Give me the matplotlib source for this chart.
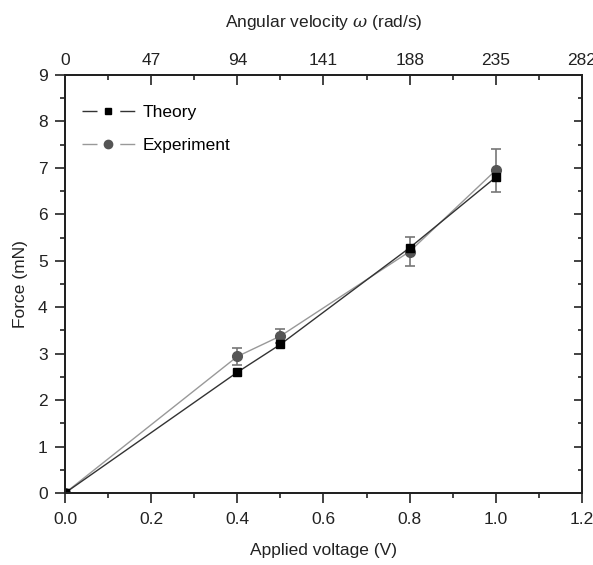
import matplotlib
matplotlib.use("Agg")
import matplotlib.pyplot as plt
from matplotlib.ticker import MultipleLocator, FixedLocator, FormatStrFormatter
from matplotlib.lines import Line2D

plt.rcParams['font.family'] = ['Liberation Sans', 'DejaVu Sans']
plt.rcParams['mathtext.fontset'] = 'custom'
plt.rcParams['mathtext.it'] = 'DejaVu Serif:italic'

voltage = [0.0, 0.4, 0.5, 0.8, 1.0]
theory = [0.0, 2.60, 3.20, 5.28, 6.80]
experiment = [0.0, 2.94, 3.38, 5.20, 6.95]
exp_err = [0.0, 0.18, 0.15, 0.32, 0.46]
omega_ticks = [0, 47, 94, 141, 188, 235, 282]
omega_per_volt = 235.0

FS = 12.5
TXT = '#222222'
theory_line = '#333333'
exp_line = '#999999'
exp_marker = '#555555'

fig = plt.figure(figsize=(5.93, 5.65), dpi=100)
ax = fig.add_axes([0.1096, 0.1274, 0.8718, 0.7398])

ax.plot(voltage, theory, '-', color=theory_line, lw=1.0, marker='s', ms=6,
        mfc='black', mec='black', zorder=3)
ax.errorbar(voltage, experiment, yerr=exp_err, fmt='-', color=exp_line, lw=1.0,
            marker='o', ms=7, mfc=exp_marker, mec=exp_marker, ecolor='#777777',
            elinewidth=1.2, capsize=3.8, capthick=1.2, zorder=2)

ax.set_xlim(0, 1.2)
ax.set_ylim(0, 9)
ax.xaxis.set_major_locator(MultipleLocator(0.2))
ax.xaxis.set_minor_locator(MultipleLocator(0.1))
ax.yaxis.set_major_locator(MultipleLocator(1))
ax.yaxis.set_minor_locator(MultipleLocator(0.5))
ax.xaxis.set_major_formatter(FormatStrFormatter('%.1f'))
ax.tick_params(axis='both', which='major', direction='out', length=7.5, width=1.2,
               labelsize=FS, colors=TXT)
ax.tick_params(axis='x', which='major', pad=6)
ax.tick_params(axis='y', which='major', pad=5)
ax.tick_params(axis='both', which='minor', direction='out', length=3.5, width=1.2, colors=TXT)
for s in ax.spines.values():
    s.set_linewidth(1.4)
    s.set_color(TXT)

ax.set_xlabel('Applied voltage (V)', fontsize=FS, labelpad=12, color=TXT)
ax.set_ylabel('Force (mN)', fontsize=FS, labelpad=7, color=TXT)

# right axis ticks (inward)
axr = ax.twinx()
axr.set_ylim(ax.get_ylim())
axr.yaxis.set_major_locator(MultipleLocator(1))
axr.yaxis.set_minor_locator(MultipleLocator(0.5))
axr.tick_params(axis='y', which='major', direction='in', length=6, width=1.2,
                labelright=False, colors=TXT)
axr.tick_params(axis='y', which='minor', direction='in', length=3, width=1.2, colors=TXT)

# top axis
axt = ax.twiny()
axt.set_xlim(ax.get_xlim()[0] * omega_per_volt, ax.get_xlim()[1] * omega_per_volt)
axt.xaxis.set_major_locator(FixedLocator(omega_ticks))
axt.xaxis.set_minor_locator(MultipleLocator(23.5))
axt.tick_params(axis='x', which='major', direction='in', length=7.5, width=1.2,
                labelsize=FS, pad=5, colors=TXT)
axt.tick_params(axis='x', which='minor', direction='in', length=3.5, width=1.2, colors=TXT)
axt.set_xlabel(r'Angular velocity $\omega$ (rad/s)', fontsize=FS, labelpad=19, color=TXT)
for a in (axr, axt):
    for s in a.spines.values():
        s.set_linewidth(1.4)
        s.set_color(TXT)

# Origin-style legend: line segments with a gap around the marker
dash = (0, (10.8, 16.4, 10.8, 100))
h_theory = Line2D([], [], color=theory_line, lw=1.0, linestyle=dash, marker='s', ms=5,
                  mfc='black', mec='black')
h_exp = Line2D([], [], color=exp_line, lw=1.0, linestyle=dash, marker='o', ms=6,
               mfc=exp_marker, mec=exp_marker)
ax.legend([h_theory, h_exp], ['Theory', 'Experiment'], loc='upper left',
          bbox_to_anchor=(0.019, 0.945), borderaxespad=0, frameon=False, fontsize=FS,
          handlelength=38 / FS, handletextpad=0.45, labelspacing=1.0)

fig.savefig('out.png', dpi=100)
